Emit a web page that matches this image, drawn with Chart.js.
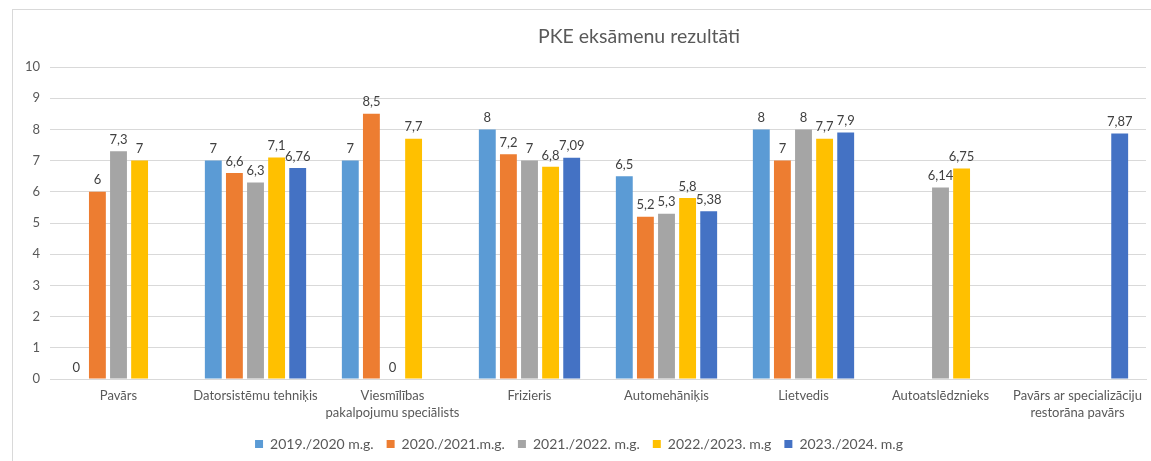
<!DOCTYPE html>
<html>
<head>
<meta charset="utf-8">
<script src="https://cdn.jsdelivr.net/npm/chart.js@4/dist/chart.umd.min.js"></script>
<style>
  html, body { margin: 0; padding: 0; background: #fff; }
  #wrap { width: 1151px; height: 461px; position: relative; }
</style>
</head>
<body>
<div id="wrap"><canvas id="c" width="1151" height="461"></canvas></div>
<script>
const chartTitle = "PKE eksāmenu rezultāti";
const categories = [
  "Pavārs",
  "Datorsistēmu tehniķis",
  ["Viesmīlības", "pakalpojumu speciālists"],
  "Frizieris",
  "Automehāniķis",
  "Lietvedis",
  "Autoatslēdznieks",
  ["Pavārs ar specializāciju", "restorāna pavārs"]
];
const seriesNames = ["2019./2020 m.g.", "2020./2021.m.g.", "2021./2022. m.g.", "2022./2023. m.g", "2023./2024. m.g"];
const s2019 = [0, 7, 7, 8, 6.5, 8, null, null];
const s2020 = [6, 6.6, 8.5, 7.2, 5.2, 7, null, null];
const s2021 = [7.3, 6.3, 0, 7, 5.3, 8, 6.14, null];
const s2022 = [7, 7.1, 7.7, 6.8, 5.8, 7.7, 6.75, null];
const s2023 = [null, 6.76, null, 7.09, 5.38, 7.9, null, 7.87];
const yTicks = [0, 1, 2, 3, 4, 5, 6, 7, 8, 9, 10];

const colors = ["#5B9BD5", "#ED7D31", "#A5A5A5", "#FFC000", "#4472C4"];
const allSeries = [s2019, s2020, s2021, s2022, s2023];
const FONT = "Lato, 'Open Sans', sans-serif";

const frame = {
  id: 'frame',
  beforeDraw(chart) {
    const ctx = chart.ctx;
    ctx.save();
    ctx.fillStyle = '#fff';
    ctx.fillRect(0, 0, chart.width, chart.height);
    ctx.strokeStyle = '#D9D9D9';
    ctx.lineWidth = 1;
    ctx.strokeRect(12.5, 9.5, chart.width + 20, chart.height + 20);
    ctx.fillStyle = '#595959';
    ctx.font = "19.5px " + FONT;
    ctx.textAlign = 'center';
    ctx.textBaseline = 'middle';
    ctx.fillText(chartTitle, 639, 37);
    ctx.restore();
  }
};

const valueLabels = {
  id: 'valueLabels',
  afterDatasetsDraw(chart) {
    const ctx = chart.ctx;
    ctx.save();
    ctx.font = "13px " + FONT;
    ctx.fillStyle = '#404040';
    ctx.textAlign = 'center';
    ctx.textBaseline = 'bottom';
    chart.data.datasets.forEach((ds, i) => {
      const meta = chart.getDatasetMeta(i);
      meta.data.forEach((el, j) => {
        const v = ds.data[j];
        if (v === null || v === undefined) return;
        ctx.fillText(String(v).replace('.', ','), el.x, el.y - 5);
      });
    });
    ctx.restore();
  }
};

new Chart(document.getElementById('c'), {
  type: 'bar',
  data: {
    labels: categories,
    datasets: allSeries.map((d, i) => ({
      label: seriesNames[i],
      data: d,
      backgroundColor: colors[i],
      borderWidth: 0,
      categoryPercentage: 0.77,
      barPercentage: 0.8
    }))
  },
  options: {
    responsive: false,
    animation: false,
    devicePixelRatio: 1,
    layout: { padding: { left: 12, right: 5, top: 67, bottom: 0 } },
    plugins: {
      title: { display: false },
      legend: {
        position: 'bottom',
        labels: {
          color: '#595959',
          font: { family: FONT, size: 14 },
          boxWidth: 8,
          boxHeight: 8,
          padding: 13
        }
      },
      tooltip: { enabled: false }
    },
    scales: {
      x: {
        grid: { display: false },
        border: { display: true, color: '#D9D9D9' },
        ticks: {
          color: '#595959',
          font: { family: FONT, size: 13, lineHeight: 1.3 },
          maxRotation: 0,
          autoSkip: false,
          padding: 0
        },
        afterFit(scale) { scale.height = 45; }
      },
      y: {
        min: 0,
        max: 10,
        afterBuildTicks(scale) { scale.ticks = yTicks.map(v => ({ value: v })); },
        grid: { color: '#D9D9D9', drawTicks: false },
        border: { display: false },
        ticks: {
          color: '#595959',
          font: { family: FONT, size: 13 },
          padding: 10
        },
        afterFit(scale) { scale.width = 38; }
      }
    }
  },
  plugins: [frame, valueLabels]
});
</script>
</body>
</html>
